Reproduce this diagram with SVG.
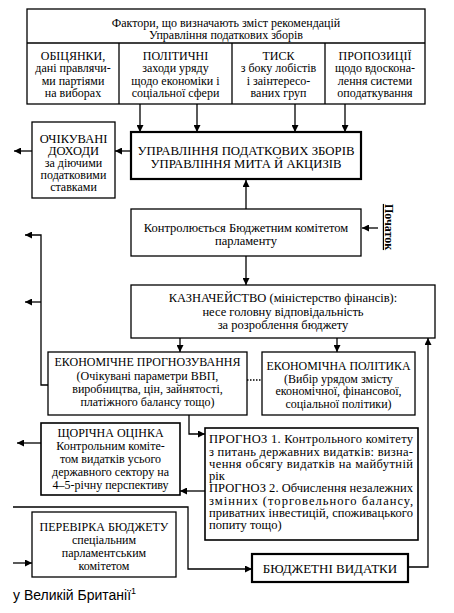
<svg xmlns="http://www.w3.org/2000/svg" width="454" height="613" viewBox="0 0 454 613">
<style>
.c{text-anchor:middle}
.b{fill:#fff;stroke:#000;stroke-width:1.3}
.t{fill:#fff;stroke:#000;stroke-width:2.2}
.l{fill:none;stroke:#000;stroke-width:1.3}
.h{font-size:13.5px}
.p{font-size:12.5px}
</style>
<defs>
<marker id="a" viewBox="0 0 10 10" refX="10" refY="5" markerWidth="7" markerHeight="7" markerUnits="userSpaceOnUse" orient="auto">
<path d="M0,0 L10,5 L0,10 Z" fill="#000"/>
</marker>
</defs>
<rect width="454" height="613" fill="#fff"/>

<g font-family="Liberation Serif, Times New Roman, serif" font-size="12" fill="#000">
<g id="factors">
<rect class="b" x="27" y="9" width="398" height="95"/>
<line class="l" x1="27" y1="43" x2="425" y2="43"/>
<line class="l" x1="119" y1="43" x2="119" y2="104"/>
<line class="l" x1="232" y1="43" x2="232" y2="104"/>
<line class="l" x1="325" y1="43" x2="325" y2="104"/>
<text class="c" x="226" y="27">Фактори, що визначають зміст рекомендацій</text>
<text class="c" x="226" y="39">Управління податкових зборів</text>
<text class="c" x="73" y="59.5">ОБІЦЯНКИ,</text>
<text class="c" x="73" y="72">дані правлячи-</text>
<text class="c" x="73" y="84.5">ми партіями</text>
<text class="c" x="73" y="97">на виборах</text>
<text class="c" x="175.5" y="59.5">ПОЛІТИЧНІ</text>
<text class="c" x="175.5" y="72">заходи уряду</text>
<text class="c" x="175.5" y="84.5">щодо економіки і</text>
<text class="c" x="175.5" y="97">соціальної сфери</text>
<text class="c" x="278.5" y="59.5">ТИСК</text>
<text class="c" x="278.5" y="72">з боку лобістів</text>
<text class="c" x="278.5" y="84.5">і заінтересо-</text>
<text class="c" x="278.5" y="97">ваних груп</text>
<text class="c" x="375" y="59.5">ПРОПОЗИЦІЇ</text>
<text class="c" x="375" y="72">щодо вдоскона-</text>
<text class="c" x="375" y="84.5">лення системи</text>
<text class="c" x="375" y="97">оподаткування</text>
</g>

<g id="main">
<rect class="t" x="131" y="132" width="230" height="47"/>
<text class="c h" x="246" y="154.5" textLength="217" lengthAdjust="spacingAndGlyphs">УПРАВЛІННЯ ПОДАТКОВИХ ЗБОРІВ</text>
<text class="c h" x="246" y="168" textLength="191" lengthAdjust="spacingAndGlyphs">УПРАВЛІННЯ МИТА Й АКЦИЗІВ</text>
</g>

<g id="income">
<rect class="b" x="32" y="122" width="83" height="76"/>
<text class="c" x="73.5" y="143" font-size="12.5">ОЧІКУВАНІ</text>
<text class="c" x="73.5" y="155" font-size="12.5">ДОХОДИ</text>
<text class="c" x="73.5" y="166.5">за діючими</text>
<text class="c" x="73.5" y="178.5">податковими</text>
<text class="c" x="73.5" y="190.5">ставками</text>
</g>

<g id="control">
<rect class="b" x="131" y="209" width="230" height="47"/>
<text class="c p" x="246" y="232">Контролюється Бюджетним комітетом</text>
<text class="c p" x="246" y="245">парламенту</text>
</g>

<g id="start">
<text class="c" transform="translate(385,227) rotate(90)" font-weight="bold" text-decoration="underline">Початок</text>
</g>

<g id="treasury">
<rect class="b" x="131" y="285" width="304" height="53"/>
<text class="c p" x="283" y="302">КАЗНАЧЕЙСТВО (міністерство фінансів):</text>
<text class="c p" x="283" y="315.5">несе головну відповідальність</text>
<text class="c p" x="283" y="329">за розроблення бюджету</text>
</g>

<g id="forecasting">
<rect class="b" x="48" y="352" width="199" height="63"/>
<text class="c" x="147.5" y="366" textLength="186" lengthAdjust="spacingAndGlyphs">ЕКОНОМІЧНЕ ПРОГНОЗУВАННЯ</text>
<text class="c" x="147.5" y="380">(Очікувані параметри ВВП,</text>
<text class="c" x="147.5" y="393">виробництва, цін, зайнятості,</text>
<text class="c" x="147.5" y="406">платіжного балансу тощо)</text>
</g>

<g id="policy">
<rect class="b" x="262" y="352" width="153" height="63"/>
<text class="c" x="338.5" y="370" textLength="144" lengthAdjust="spacingAndGlyphs">ЕКОНОМІЧНА ПОЛІТИКА</text>
<text class="c" x="338.5" y="382.5">(Вибір урядом змісту</text>
<text class="c" x="338.5" y="395">економічної, фінансової,</text>
<text class="c" x="338.5" y="407.5">соціальної політики)</text>
</g>

<g id="annual">
<rect class="b" x="41" y="423" width="139" height="72" style="stroke-width:1.6"/>
<text class="c" x="110.5" y="437">ЩОРІЧНА ОЦІНКА</text>
<text class="c" x="110.5" y="450">Контрольним коміте-</text>
<text class="c" x="110.5" y="463">том видатків усього</text>
<text class="c" x="110.5" y="476">державного сектору на</text>
<text class="c" x="110.5" y="489">4–5-річну перспективу</text>
</g>

<g id="forecast">
<rect class="b" x="205" y="428" width="213" height="112" style="stroke-width:1.6"/>
<text class="p" x="209" y="443" textLength="204" lengthAdjust="spacing">ПРОГНОЗ 1. Контрольного комітету</text>
<text class="p" x="209" y="455.5" textLength="204" lengthAdjust="spacing">з питань державних видатків: визна-</text>
<text class="p" x="209" y="468" textLength="204" lengthAdjust="spacing">чення обсягу видатків на майбутній</text>
<text class="p" x="209" y="480">рік</text>
<text class="p" x="209" y="492" textLength="204" lengthAdjust="spacing">ПРОГНОЗ 2. Обчислення незалежних</text>
<text class="p" x="209" y="504.5" textLength="204" lengthAdjust="spacing">змінних (торговельного балансу,</text>
<text class="p" x="209" y="517" textLength="204" lengthAdjust="spacing">приватних інвестицій, споживацького</text>
<text class="p" x="209" y="529">попиту тощо)</text>
</g>

<g id="review">
<rect class="b" x="32" y="512" width="144" height="65"/>
<text class="c" x="104" y="531">ПЕРЕВІРКА БЮДЖЕТУ</text>
<text class="c" x="104" y="543.5">спеціальним</text>
<text class="c" x="104" y="557">парламентським</text>
<text class="c" x="104" y="570">комітетом</text>
</g>

<g id="spending">
<rect class="t" x="252" y="554" width="156" height="28"/>
<text class="c" x="330" y="573" font-size="13">БЮДЖЕТНІ ВИДАТКИ</text>
</g>
</g>

<g id="connectors">
<line class="l" x1="140" y1="104" x2="140" y2="132" marker-end="url(#a)"/>
<line class="l" x1="197" y1="104" x2="197" y2="132" marker-end="url(#a)"/>
<line class="l" x1="295" y1="104" x2="295" y2="132" marker-end="url(#a)"/>
<line class="l" x1="345" y1="104" x2="345" y2="132" marker-end="url(#a)"/>
<line class="l" x1="131" y1="151" x2="115" y2="151" marker-end="url(#a)"/>
<line class="l" x1="32" y1="151" x2="14" y2="151" marker-end="url(#a)"/>
<line class="l" x1="246" y1="209" x2="246" y2="180" marker-end="url(#a)"/>
<line class="l" x1="378" y1="228" x2="362" y2="228" marker-end="url(#a)"/>
<line class="l" x1="246" y1="256" x2="246" y2="285" marker-end="url(#a)"/>
<path class="l" d="M48,385 H41 V235 H25" marker-end="url(#a)"/>
<line class="l" x1="41" y1="302" x2="25" y2="302" marker-end="url(#a)"/>
<line class="l" x1="180" y1="338" x2="180" y2="352" marker-end="url(#a)"/>
<line class="l" x1="337" y1="338" x2="337" y2="352" marker-end="url(#a)"/>
<line class="l" x1="247" y1="380" x2="262" y2="380" stroke-dasharray="1.5,1.5"/>
<path class="l" d="M189,415 V434 H205" marker-end="url(#a)"/>
<line class="l" x1="41" y1="443" x2="17" y2="443" marker-end="url(#a)"/>
<line class="l" x1="205" y1="491" x2="180" y2="491" marker-end="url(#a)"/>
<path class="l" d="M13,507 H188 V569 H252" marker-end="url(#a)"/>
<line class="l" x1="13" y1="563" x2="32" y2="563" marker-end="url(#a)"/>
<path class="l" d="M408,567 H428 V338" marker-end="url(#a)"/>
</g>

<text x="13" y="600" font-family="Liberation Sans, Arial, sans-serif" font-size="14" fill="#000">у Великій Британії<tspan dy="-6" font-size="9">1</tspan></text>
</svg>
